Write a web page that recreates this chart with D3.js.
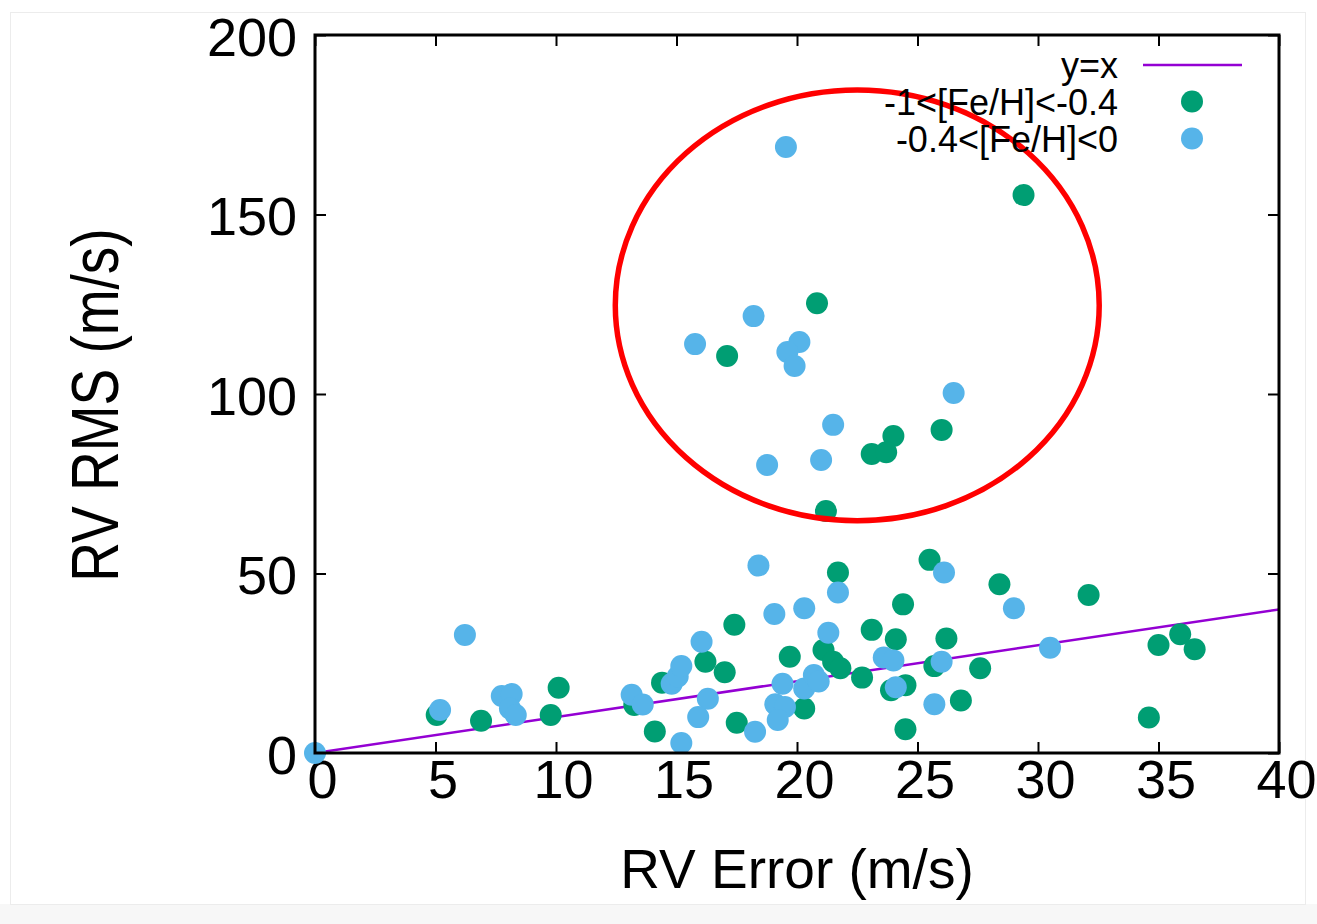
<!DOCTYPE html>
<html>
<head>
<meta charset="utf-8">
<script src="https://cdn.jsdelivr.net/npm/d3@7"></script>
<style>
body { margin: 0; background: #fff; }
svg text { font-family: "Liberation Sans", Arial, Helvetica, sans-serif; fill: #000; }
</style>
</head>
<body>
<div id="my_dataviz"></div>
<script>

// data: [RV error, RV RMS] in m/s
const metalPoor = [
    [5.05, 10.6], [6.89, 9.0], [9.78, 10.6], [10.11, 18.2], [13.25, 13.4],
    [14.1, 6.0], [14.4, 19.6], [16.2, 25.4], [17.0, 22.5], [17.4, 35.7],
    [17.5, 8.4], [19.7, 26.8], [20.3, 12.4], [21.1, 28.7], [21.5, 25.4],
    [21.8, 23.6], [21.7, 50.3], [22.7, 21.0], [23.1, 34.3], [24.4, 41.4],
    [24.1, 31.7], [24.5, 18.9], [23.9, 17.5], [24.5, 6.6], [25.5, 53.8],
    [26.2, 31.9], [25.7, 24.2], [27.6, 23.6], [26.8, 14.6], [28.4, 47.0],
    [32.1, 44.0], [35.0, 30.1], [35.9, 33.1], [36.5, 28.9], [34.6, 9.9],
    // the ones inside the circle
    [29.4, 155.4], [20.83, 125.3], [17.1, 110.6], [26.0, 90.0], [24.0, 88.3],
    [23.1, 83.3], [23.7, 83.8], [21.2, 67.4]
];

const metalRich = [
    [0, 0], [5.19, 12.0], [6.22, 32.9], [7.75, 15.9], [8.16, 16.4],
    [8.09, 12.4], [8.33, 10.6], [13.14, 16.2], [13.6, 13.5], [14.8, 19.3],
    [15.05, 21.3], [15.2, 24.2], [15.2, 2.8], [16.04, 31.0], [16.3, 15.1],
    [15.9, 10.0], [18.26, 5.9], [18.4, 52.2], [19.06, 38.7], [19.4, 19.3],
    [19.1, 13.6], [19.5, 12.8], [19.2, 9.2], [20.3, 18.0], [20.7, 21.7],
    [20.9, 19.9], [20.3, 40.3], [21.3, 33.5], [21.7, 44.7], [23.6, 26.6],
    [24.0, 25.8], [24.1, 18.3], [25.7, 13.6], [26.0, 25.4], [26.1, 50.3],
    [29.0, 40.3], [30.5, 29.3],
    // inside the circle
    [19.54, 168.8], [18.2, 121.7], [15.77, 113.9], [20.1, 114.5], [19.6, 111.7],
    [19.9, 107.8], [26.5, 100.3], [21.5, 91.4], [18.76, 80.2], [21.0, 81.6]
];

// y = x reference line
const identityLine = [[0, 0], [40, 40]];

// red circle drawn round the outliers (centre and radii in data units)
const outlierEllipse = {cx: 22.5, cy: 124.7, rx: 10.04, ry: 60};

const xTicks = [0, 5, 10, 15, 20, 25, 30, 35, 40];
const yTicks = [0, 50, 100, 150, 200];

const legendLabels = ["y=x", "-1<[Fe/H]<-0.4", "-0.4<[Fe/H]<0"];

const colors = {line: "#9400d3", poor: "#009e73", rich: "#56b4e9", circle: "#ff0000"};

// set the dimensions and margins of the graph
const margin = {top: 35, right: 38, bottom: 171, left: 315},
    width = 1317 - margin.left - margin.right,
    height = 924 - margin.top - margin.bottom;

let svg = d3.select("#my_dataviz")
    .append("svg")
    .attr("width", 1317)
    .attr("height", 924);

// faint frame of the screenshot
svg.append("rect")
    .attr("x", 0).attr("y", 904)
    .attr("width", 1317).attr("height", 20)
    .attr("fill", "#f7f7f7");
svg.append("rect")
    .attr("x", 10.5).attr("y", 12.5)
    .attr("width", 1295).attr("height", 892)
    .attr("fill", "#fff")
    .attr("stroke", "#ececec");

let group = svg.append("g")
    .attr("transform", "translate(" + margin.left + "," + margin.top + ")");

let x = d3.scaleLinear().domain([0, 40]).range([0, width]);
let y = d3.scaleLinear().domain([0, 200]).range([height, 0]);

group.append("clipPath").attr("id", "plotclip")
    .append("rect").attr("width", width).attr("height", height);

// ticks on all four sides, pointing inwards
function styleAxis(g) {
    g.select(".domain").remove();
    g.selectAll("line").attr("stroke", "#000").attr("stroke-width", 2);
}

group.append("g")
    .attr("transform", "translate(0," + height + ")")
    .call(d3.axisBottom(x).tickValues(xTicks).tickSize(-11))
    .call(styleAxis)
    .call(g => g.selectAll("text")
        .attr("x", 7).attr("y", 45).attr("dy", null)
        .attr("font-size", 54));

group.append("g")
    .call(d3.axisTop(x).tickValues(xTicks).tickSize(-11).tickFormat(""))
    .call(styleAxis);

group.append("g")
    .call(d3.axisLeft(y).tickValues(yTicks).tickSize(-11))
    .call(styleAxis)
    .call(g => g.selectAll("text")
        .attr("x", -18).attr("y", 20).attr("dy", null)
        .attr("font-size", 54));

group.append("g")
    .attr("transform", "translate(" + width + ",0)")
    .call(d3.axisRight(y).tickValues(yTicks).tickSize(-11).tickFormat(""))
    .call(styleAxis);

// y = x line goes under the points
const line = d3.line()
    .x(d => x(d[0]))
    .y(d => y(d[1]));

group.append("path")
    .datum(identityLine)
    .attr("clip-path", "url(#plotclip)")
    .attr("fill", "none")
    .attr("stroke", colors.line)
    .attr("stroke-width", 2.5)
    .attr("d", line);

group.append("g")
    .selectAll("circle")
    .data(metalPoor)
    .join("circle")
    .attr("cx", d => x(d[0]))
    .attr("cy", d => y(d[1]))
    .attr("r", 11)
    .attr("fill", colors.poor);

group.append("g")
    .selectAll("circle")
    .data(metalRich)
    .join("circle")
    .attr("cx", d => x(d[0]))
    .attr("cy", d => y(d[1]))
    .attr("r", 11)
    .attr("fill", colors.rich);

// border
group.append("rect")
    .attr("width", width)
    .attr("height", height)
    .attr("fill", "none")
    .attr("stroke", "#000")
    .attr("stroke-width", 3);

// legend (top right, text right aligned)
let legend = svg.append("g").attr("font-size", 36);
const legendRows = [65, 101.5, 138.5];
legendLabels.forEach(function(label, i) {
    legend.append("text")
        .attr("x", 1118)
        .attr("y", legendRows[i] + 13)
        .attr("text-anchor", "end")
        .text(label);
});
legend.append("line")
    .attr("x1", 1143).attr("x2", 1242)
    .attr("y1", legendRows[0]).attr("y2", legendRows[0])
    .attr("stroke", colors.line)
    .attr("stroke-width", 2.5);
legend.append("circle")
    .attr("cx", 1192).attr("cy", legendRows[1]).attr("r", 11)
    .attr("fill", colors.poor);
legend.append("circle")
    .attr("cx", 1192).attr("cy", legendRows[2]).attr("r", 11)
    .attr("fill", colors.rich);

// the red circle is on top of everything, legend included
group.append("ellipse")
    .attr("cx", x(outlierEllipse.cx))
    .attr("cy", y(outlierEllipse.cy))
    .attr("rx", x(outlierEllipse.rx) - x(0))
    .attr("ry", y(0) - y(outlierEllipse.ry))
    .attr("fill", "none")
    .attr("stroke", colors.circle)
    .attr("stroke-width", 5.5);

// axis titles
svg.append("text")
    .attr("x", margin.left + width / 2)
    .attr("y", 888)
    .attr("text-anchor", "middle")
    .attr("font-size", 55)
    .text("RV Error (m/s)");

svg.append("text")
    .attr("transform", "translate(118," + (margin.top + height / 2 + 11) + ") rotate(-90) scale(1,1.2)")
    .attr("text-anchor", "middle")
    .attr("font-size", 55)
    .text("RV RMS (m/s)");

</script>
</body>
</html>
